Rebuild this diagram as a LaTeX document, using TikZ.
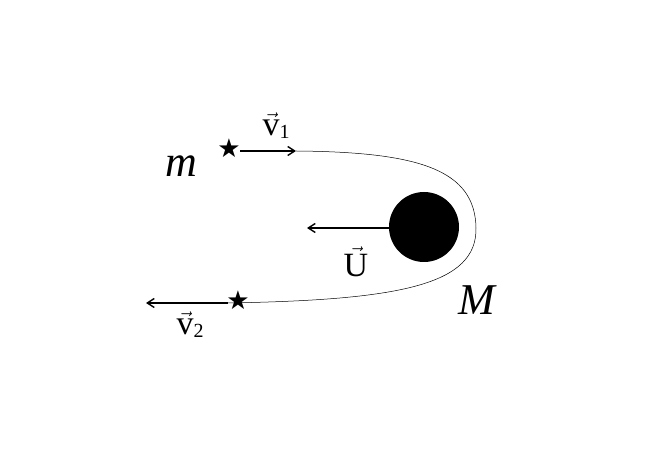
\documentclass[tikz,border=0pt]{standalone}
\usepackage{fontspec}
\setmainfont{Liberation Serif}
\newfontfamily\symfont{DejaVu Sans}
\usetikzlibrary{arrows.meta}
\tikzset{vecarrow/.style={-{Straight Barb[length=7pt,width=9pt,line width=1.4pt]},line width=1.4pt}, lbl/.style={inner sep=0pt}}
\begin{document}
\begin{tikzpicture}[x=1pt,y=-1pt]
\useasboundingbox (0,0) rectangle (654,462);
\node[lbl] (s1) at (229,148) {\symfont\fontsize{26}{26}\selectfont ★};
\node[lbl] (s2) at (238,300) {\symfont\fontsize{26}{26}\selectfont ★};
\coordinate (a1s) at (240,151);
\coordinate (a1e) at (296,151);
\coordinate (a2s) at (228,303);
\coordinate (a2e) at (146,303);
\coordinate (u1) at (392,228);
\coordinate (u2) at (307,228);
\draw[vecarrow] (a1s) -- (a1e);
\draw[vecarrow] (a2s) -- (a2e);
\draw[vecarrow] (u1) -- (u2);
\draw[line width=0.5pt] (a1e) .. controls (420,152) and (475,170) .. (476,228) .. controls (477,285) and (400,300) .. (a2s);
\node[circle,fill=black,minimum size=70pt,inner sep=0pt] (M0) at (424,227) {};
\node[lbl] (m) at (181,166) {\fontsize{44}{44}\selectfont\itshape m};
\node[lbl] (M) at (477,300) {\fontsize{44}{44}\selectfont\itshape M};
\node[lbl] (v1) at (276,126) {\fontsize{34}{34}\selectfont$\vec{\mbox{v}}$\raisebox{-3pt}{\fontsize{20}{20}\selectfont 1}};
\node[lbl] (v2) at (190,325) {\fontsize{34}{34}\selectfont$\vec{\mbox{v}}$\raisebox{-3pt}{\fontsize{20}{20}\selectfont 2}};
\node[lbl] (U) at (356,262) {\fontsize{34}{34}\selectfont$\vec{\mbox{U}}$};
\end{tikzpicture}
\end{document}
